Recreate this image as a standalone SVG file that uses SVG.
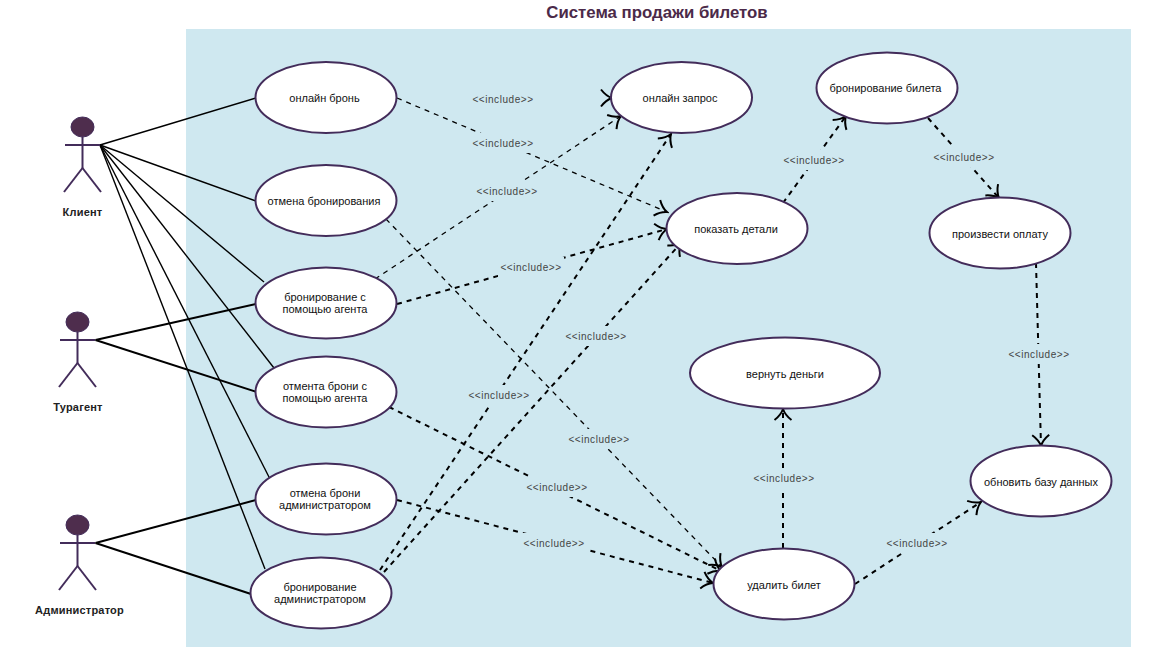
<svg xmlns="http://www.w3.org/2000/svg" width="1157" height="652" viewBox="0 0 1157 652">
<style>
text{font-family:"Liberation Sans",Arial,sans-serif;text-anchor:middle}
.uc ellipse{fill:#fff;stroke:#432c5a;stroke-width:2}
.uc text{font-size:11px;fill:#111}
.actor line{stroke:#432c5a;stroke-width:2}
.actor ellipse{fill:#4e2d4d;stroke:#432c5a;stroke-width:1}
.actor text{font-size:11px;letter-spacing:.2px;font-weight:bold;fill:#222}
.assoc line{stroke:#000;stroke-width:1.4}
.assoc .t{stroke-width:2}
.dep path{fill:none;stroke:#000;stroke-width:1.3;stroke-dasharray:5 5}
.dep path.t{stroke-width:2;stroke-dasharray:5 5}
.lbl rect{fill:#cfe8f0;width:66px;height:20px}
.lbl text{font-size:10px;letter-spacing:.55px;fill:#444}
</style>
<defs>
<marker id="a" viewBox="-14 -11 16 22" refX="0" refY="0" markerWidth="16" markerHeight="22" markerUnits="userSpaceOnUse" orient="auto"><path d="M-11 -8.500Q-6 -2 0 0Q-6 2 -11 8.500" fill="none" stroke="#000" stroke-width="2"/></marker>
</defs>
<text x="657" y="18" style="font-size:16.800px;font-weight:bold;fill:#4b2a49">Система продажи билетов</text>
<rect x="186" y="29" width="945" height="618" fill="#cfe8f0"/>
<g id="connectors">
<g class="assoc">
<line x1="100" y1="145" x2="256" y2="98"/>
<line x1="100" y1="145" x2="256" y2="201"/>
<line x1="100" y1="145" x2="264" y2="282"/>
<line x1="100" y1="145" x2="274" y2="368"/>
<line x1="100" y1="145" x2="270" y2="479"/>
<line x1="100" y1="145" x2="265" y2="569"/>
<line class="t" x1="95.500" y1="340" x2="256" y2="304"/>
<line class="t" x1="95.500" y1="340" x2="257" y2="392"/>
<line class="t" x1="95.500" y1="543" x2="256" y2="500"/>
<line class="t" x1="95.500" y1="543" x2="251" y2="594"/>
</g>
<g class="dep">
<path d="M397 98L667 212" marker-end="url(#a)"/>
<path d="M386 219L722 567" marker-end="url(#a)"/>
<path d="M375 279L621 116" marker-end="url(#a)"/>
<path class="t" d="M397 304L667 229" marker-end="url(#a)"/>
<path class="t" d="M389 407L721 571" marker-end="url(#a)"/>
<path class="t" d="M397 500L713 583" marker-end="url(#a)"/>
<path class="t" d="M380 570L671 134" marker-end="url(#a)"/>
<path class="t" d="M384 572L681 243" marker-end="url(#a)"/>
<path class="t" d="M783 203L846 116" marker-end="url(#a)"/>
<path class="t" d="M928 118L999 198" marker-end="url(#a)"/>
<path class="t" d="M1036 263L1041 446" marker-end="url(#a)"/>
<path class="t" d="M783 548L783 409" marker-end="url(#a)"/>
<path class="t" d="M855 584L981 502" marker-end="url(#a)"/>
<path d="M611 98L612 98" marker-end="url(#a)"/>
</g>
<g class="lbl">
<rect x="470" y="89"/><text x="503" y="103">&lt;&lt;include&gt;&gt;</text>
<rect x="470" y="133"/><text x="503" y="147">&lt;&lt;include&gt;&gt;</text>
<rect x="474" y="181"/><text x="507" y="195">&lt;&lt;include&gt;&gt;</text>
<rect x="498" y="257"/><text x="531" y="271">&lt;&lt;include&gt;&gt;</text>
<rect x="563" y="326"/><text x="596" y="340">&lt;&lt;include&gt;&gt;</text>
<rect x="466" y="385"/><text x="499" y="399">&lt;&lt;include&gt;&gt;</text>
<rect x="566" y="429"/><text x="599" y="443">&lt;&lt;include&gt;&gt;</text>
<rect x="524" y="477"/><text x="557" y="491">&lt;&lt;include&gt;&gt;</text>
<rect x="521" y="533"/><text x="554" y="547">&lt;&lt;include&gt;&gt;</text>
<rect x="781" y="150"/><text x="814" y="164">&lt;&lt;include&gt;&gt;</text>
<rect x="931" y="147"/><text x="964" y="161">&lt;&lt;include&gt;&gt;</text>
<rect x="1006" y="344"/><text x="1039" y="358">&lt;&lt;include&gt;&gt;</text>
<rect x="751" y="468"/><text x="784" y="482">&lt;&lt;include&gt;&gt;</text>
<rect x="884" y="533"/><text x="917" y="547">&lt;&lt;include&gt;&gt;</text>
</g>
</g>
<g id="actor-client" class="actor"><ellipse cx="82.500" cy="127" rx="11.500" ry="10"/><line x1="65" y1="145" x2="100" y2="145"/><line x1="82.500" y1="137" x2="82.500" y2="168"/><line x1="82.500" y1="168" x2="64" y2="192"/><line x1="82.500" y1="168" x2="101" y2="192"/><text x="82.500" y="216">Клиент</text></g>
<g id="actor-agent" class="actor"><ellipse cx="77.500" cy="322" rx="11.500" ry="10"/><line x1="60" y1="340" x2="95" y2="340"/><line x1="77.500" y1="332" x2="77.500" y2="363"/><line x1="77.500" y1="363" x2="59" y2="387"/><line x1="77.500" y1="363" x2="96" y2="387"/><text x="78" y="411">Турагент</text></g>
<g id="actor-admin" class="actor"><ellipse cx="77.500" cy="525" rx="11.500" ry="10"/><line x1="60" y1="543" x2="95" y2="543"/><line x1="77.500" y1="535" x2="77.500" y2="566"/><line x1="77.500" y1="566" x2="59" y2="590"/><line x1="77.500" y1="566" x2="96" y2="590"/><text x="79.500" y="614">Администратор</text></g>
<g id="uc1" class="uc"><ellipse cx="326" cy="97.500" rx="70.500" ry="35.500"/><text x="324.500" y="102">онлайн бронь</text></g>
<g id="uc2" class="uc"><ellipse cx="326" cy="200.500" rx="70.500" ry="35.500"/><text x="324" y="205">отмена бронирования</text></g>
<g id="uc3" class="uc"><ellipse cx="326" cy="303" rx="70.500" ry="35.500"/><text x="325" y="301">бронирование с</text><text x="325" y="313">помощью агента</text></g>
<g id="uc4" class="uc"><ellipse cx="326" cy="392" rx="70.500" ry="35.500"/><text x="325" y="390">отмента брони с</text><text x="325" y="402">помощью агента</text></g>
<g id="uc5" class="uc"><ellipse cx="326" cy="499" rx="70.500" ry="35.500"/><text x="325" y="497">отмена брони</text><text x="325" y="509">администратором</text></g>
<g id="uc6" class="uc"><ellipse cx="321" cy="593" rx="70.500" ry="35.500"/><text x="320" y="591">бронирование</text><text x="320" y="603">администратором</text></g>
<g id="uc7" class="uc"><ellipse cx="681.500" cy="97.500" rx="70.500" ry="35.500"/><text x="680" y="102">онлайн запрос</text></g>
<g id="uc8" class="uc"><ellipse cx="887" cy="88" rx="70.500" ry="35.500"/><text x="885.500" y="92">бронирование билета</text></g>
<g id="uc9" class="uc"><ellipse cx="737" cy="228.500" rx="70.500" ry="35.500"/><text x="736" y="233">показать детали</text></g>
<g id="uc10" class="uc"><ellipse cx="1000" cy="233" rx="70.500" ry="35.500"/><text x="1000" y="238">произвести оплату</text></g>
<g id="uc11" class="uc"><ellipse cx="785" cy="373" rx="95" ry="35.500"/><text x="785" y="378">вернуть деньги</text></g>
<g id="uc12" class="uc"><ellipse cx="1041" cy="481" rx="70.500" ry="35.500"/><text x="1041" y="486">обновить базу данных</text></g>
<g id="uc13" class="uc"><ellipse cx="784" cy="584" rx="70.500" ry="35.500"/><text x="784" y="589">удалить билет</text></g>
</svg>
